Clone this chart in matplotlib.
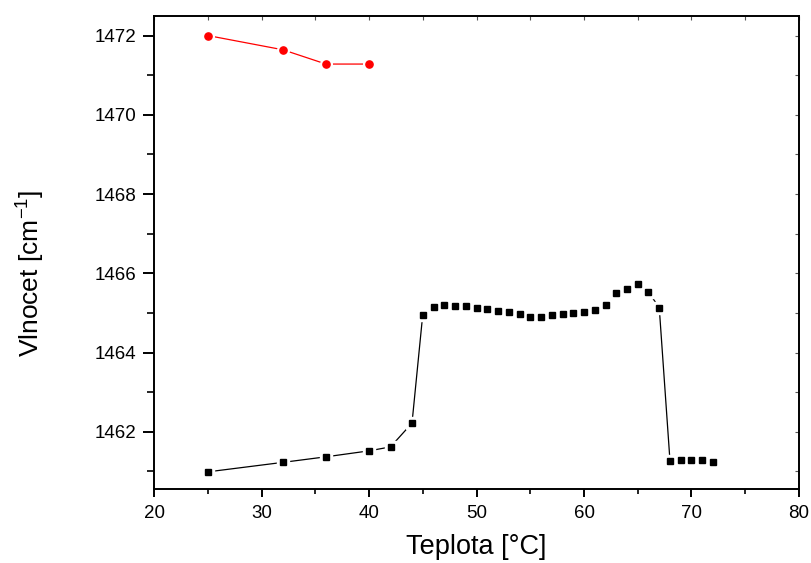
import matplotlib
matplotlib.use("Agg")
import matplotlib.pyplot as plt
from matplotlib.ticker import MultipleLocator

plt.rcParams['font.family'] = ['Liberation Sans', 'DejaVu Sans']

# Wavenumber of the band vs. temperature, two phases
temp_low = [25, 32, 36, 40, 42, 44, 45, 46, 47, 48, 49, 50, 51, 52, 53, 54, 55,
            56, 57, 58, 59, 60, 61, 62, 63, 64, 65, 66, 67, 68, 69, 70, 71, 72]
wn_low = [1460.99, 1461.23, 1461.37, 1461.52, 1461.62, 1462.22, 1464.96, 1465.16,
          1465.21, 1465.18, 1465.18, 1465.13, 1465.09, 1465.05, 1465.02, 1464.97,
          1464.90, 1464.90, 1464.94, 1464.98, 1464.99, 1465.03, 1465.08, 1465.21,
          1465.50, 1465.60, 1465.72, 1465.53, 1465.13, 1461.26, 1461.28, 1461.28,
          1461.28, 1461.24]

temp_high = [25, 32, 36, 40]
wn_high = [1472.00, 1471.64, 1471.28, 1471.28]

fig = plt.figure(figsize=(8.11, 5.63), dpi=100)
ax = fig.add_axes([0.1899, 0.1309, 0.7953, 0.8412])

def series(x, y, color, marker, ms):
    ax.plot(x, y, '-', color=color, lw=0.9, zorder=2)
    # white halo keeps the connecting line off the symbols
    ax.plot(x, y, linestyle='none', marker=marker, ms=ms + 3.2,
            mfc='white', mec='white', zorder=3)
    ax.plot(x, y, linestyle='none', marker=marker, ms=ms,
            mfc=color, mec=color, zorder=4)

series(temp_low, wn_low, 'black', 's', 5.0)
series(temp_high, wn_high, '#ff0000', 'o', 5.2)

ax.set_xlim(20, 80)
ax.set_ylim(1460.55, 1472.5)
ax.xaxis.set_major_locator(MultipleLocator(10))
ax.xaxis.set_minor_locator(MultipleLocator(5))
ax.yaxis.set_major_locator(MultipleLocator(2))
ax.yaxis.set_minor_locator(MultipleLocator(1))

for s in ax.spines.values():
    s.set_linewidth(1.4)

ax.tick_params(which='major', direction='out', width=1.4,
               labelsize=13.5, top=False, right=False)
ax.tick_params(which='minor', direction='out', width=1.2,
               top=False, right=False)
ax.tick_params(axis='x', which='major', length=6, pad=5)
ax.tick_params(axis='x', which='minor', length=3.6)
ax.tick_params(axis='y', which='major', length=8, pad=5)
ax.tick_params(axis='y', which='minor', length=5)

# inward ticks on the top and right frame, no labels
sec_x = ax.secondary_xaxis('top')
sec_x.xaxis.set_major_locator(MultipleLocator(5))
sec_x.tick_params(direction='in', length=3, width=0.8, color='#555555', labeltop=False)
sec_x.spines['top'].set_visible(False)
sec_y = ax.secondary_yaxis('right')
sec_y.yaxis.set_major_locator(MultipleLocator(1))
sec_y.tick_params(direction='in', length=3, width=0.8, color='#555555', labelright=False)
sec_y.spines['right'].set_visible(False)

ax.set_xlabel('Teplota [°C]', fontsize=19.5)
ax.xaxis.set_label_coords(0.5, -0.094)
ax.set_ylabel('Vlnocet [cm$^{\\mathregular{-1}}$]', fontsize=19)
ax.yaxis.set_label_coords(-0.167, 0.455)

fig.savefig('out.png', dpi=100)
